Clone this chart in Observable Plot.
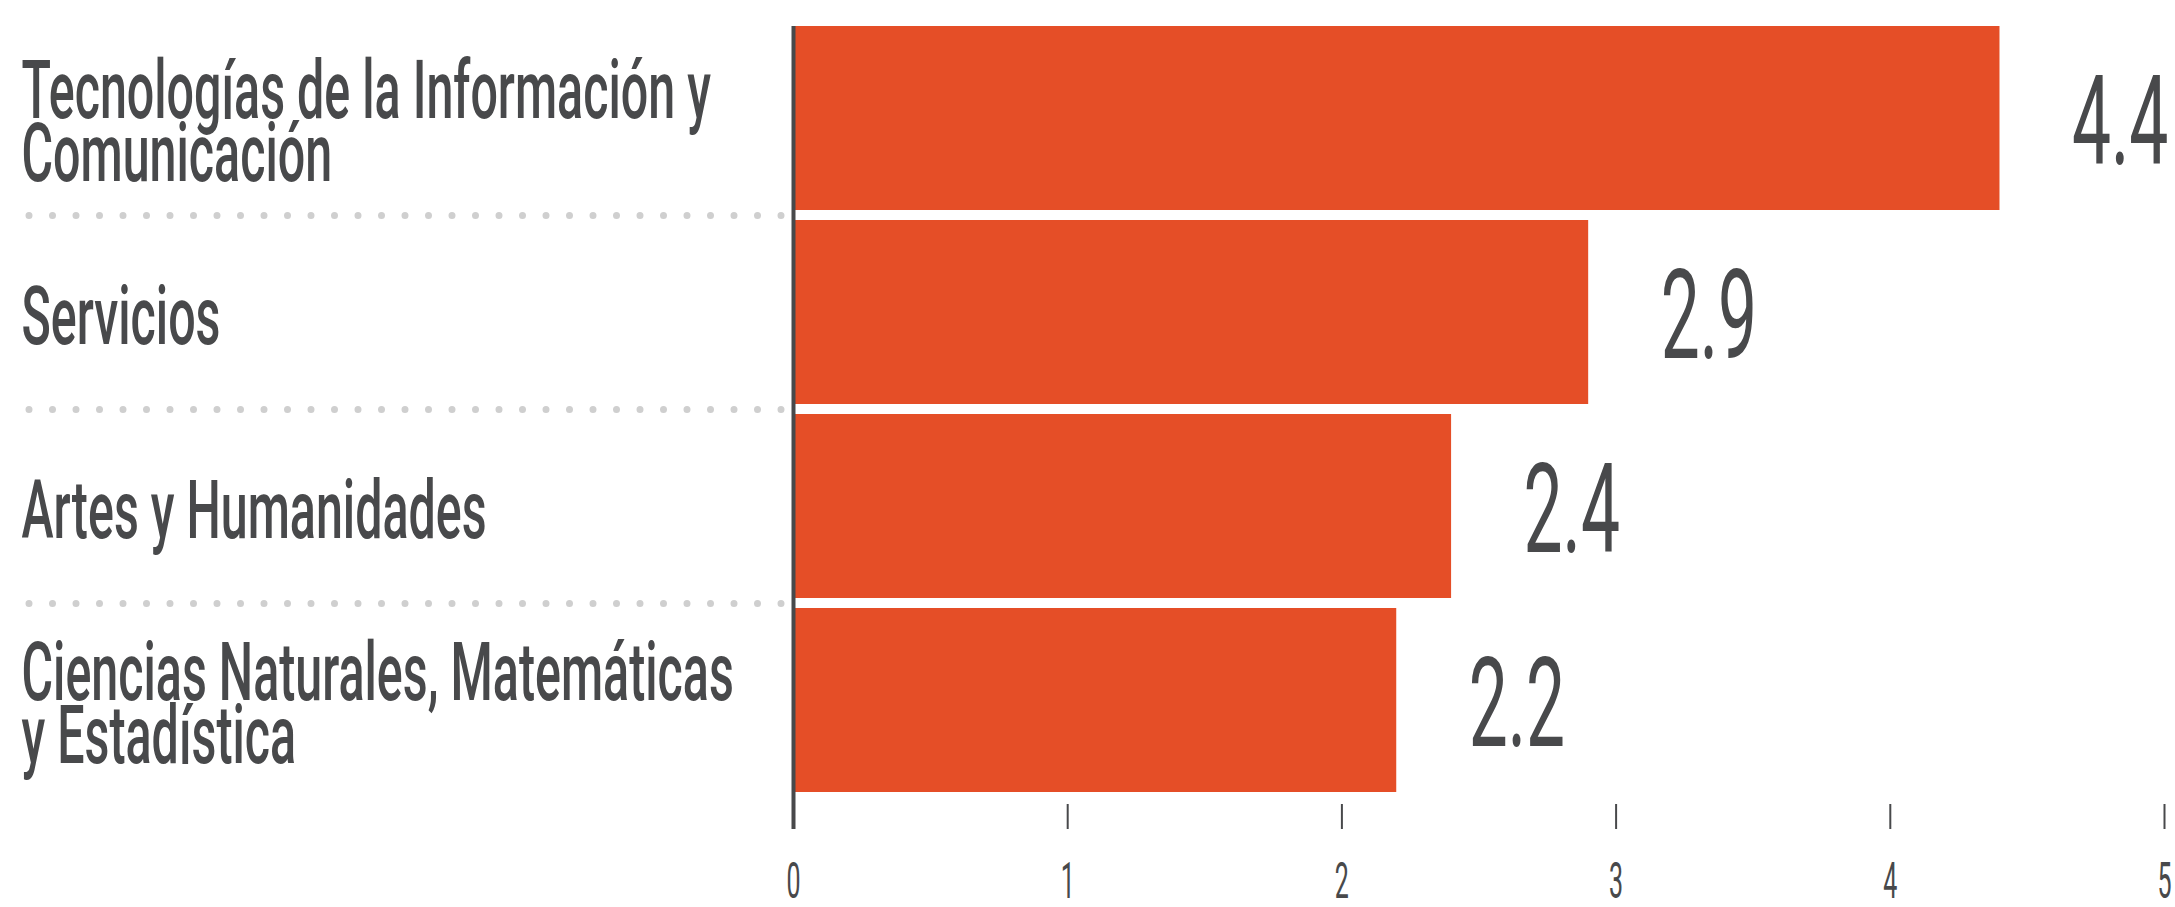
<!DOCTYPE html>
<html>
<head>
<meta charset="utf-8">
<script src="https://cdn.jsdelivr.net/npm/d3@7"></script>
<script src="https://cdn.jsdelivr.net/npm/@observablehq/plot@0.6"></script>
<style>
  html, body { margin: 0; padding: 0; background: #ffffff; }
  svg { display: block; }
</style>
</head>
<body>
<div id="chart"></div>
<script>
// ---- data ----
const categories = [
  "Tecnologías de la Información y Comunicación",
  "Servicios",
  "Artes y Humanidades",
  "Ciencias Naturales, Matemáticas y Estadística"
];
const categoryLabels = [
  "Tecnologías de la Información y\nComunicación",
  "Servicios",
  "Artes y Humanidades",
  "Ciencias Naturales, Matemáticas\ny Estadística"
];
const values = [4.4, 2.9, 2.4, 2.2];
const xTicks = [0, 1, 2, 3, 4, 5];

const data = categories.map((c, i) => ({ category: c, label: categoryLabels[i], value: values[i] }));

// ---- style ----
const W = 2175, H = 907;
const ink = "#48494b";
const barColor = "#e54e27";
const dotColor = "#cfcfcf";
const font = "Roboto";

const plot = Plot.plot({
  width: W,
  height: H,
  marginLeft: 793,
  marginRight: 11,
  marginTop: 26,
  marginBottom: 103,
  style: { fontFamily: font, color: ink, background: "#ffffff", overflow: "visible" },
  x: { domain: [0, 5], axis: null, label: null },
  y: { domain: categories, range: [26, 793], paddingInner: 0.05, paddingOuter: 0, axis: null },
  marks: [
    Plot.barX(data, { y: "category", x: "value", fill: barColor }),
    // dotted separators between categories (in left margin)
    Plot.ruleY(categories.slice(1), {
      y: d => d, dy: -97,
      insetLeft: -764, insetRight: 1382,
      stroke: dotColor, strokeWidth: 7, strokeLinecap: "round", strokeDasharray: "0 23.5"
    }),
    // baseline axis
    Plot.ruleX([0], { stroke: ink, strokeWidth: 4, insetBottom: -25 }),
    Plot.axisX({
      ticks: xTicks, tickSize: 25, tickPadding: 33, tickFormat: d => String(d), label: null,
      stroke: ink, strokeWidth: 2, fontSize: 50, fill: ink
    }),
    // category labels
    Plot.text(data, {
      y: "category", text: "label", frameAnchor: "left", textAnchor: "start",
      dx: -772, dy: 11, fontSize: 82, fontWeight: 500, lineHeight: 0.77, fill: ink
    }),
    // value labels
    Plot.text(data, {
      y: "category", x: "value", text: d => d.value.toFixed(1), textAnchor: "start",
      dx: 72, dy: 6, fontSize: 124, fontWeight: 400, fill: ink
    })
  ]
});

document.getElementById("chart").appendChild(plot);

// horizontally condense text to mimic a condensed gothic face
function condense(el, sx) {
  const bb = el.getBBox();
  const anchor = getComputedStyle(el).textAnchor;
  let ax = bb.x;
  if (anchor === "middle") ax = bb.x + bb.width / 2;
  else if (anchor === "end") ax = bb.x + bb.width;
  const t = el.getAttribute("transform") || "";
  el.setAttribute("transform", `${t} translate(${ax},0) scale(${sx},1) translate(${-ax},0)`);
}
const textGroups = plot.querySelectorAll('g[aria-label="text"]');
textGroups[0].querySelectorAll("text").forEach(el => condense(el, 0.59));
textGroups[1].querySelectorAll("text").forEach(el => condense(el, 0.56));
plot.querySelectorAll('g[aria-label="x-axis tick label"] text').forEach(el => condense(el, 0.5));
</script>
</body>
</html>
